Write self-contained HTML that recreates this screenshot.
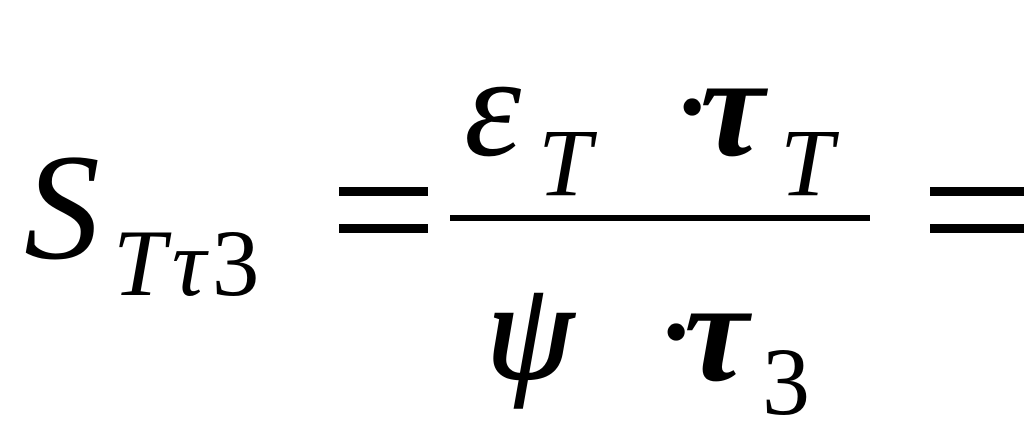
<!DOCTYPE html>
<html><head><meta charset="utf-8"><style>
html,body{margin:0;padding:0;background:#fff;}
svg{display:block;}
text{font-family:"Liberation Serif","DejaVu Serif",serif;fill:#000;}
</style></head><body>
<svg width="1024" height="448" viewBox="0 0 1024 448" xmlns="http://www.w3.org/2000/svg">
<text x="24" y="258" font-size="152" font-style="italic">S</text>
<text x="113" y="295" font-size="95" letter-spacing="6"><tspan font-style="italic">T</tspan><tspan font-style="italic">τ</tspan><tspan>3</tspan></text>
<rect x="339" y="187" width="89" height="9"/>
<rect x="339" y="224" width="89" height="9"/>
<text x="464" y="155" font-size="145" font-style="italic">ε</text>
<text x="538" y="195" font-size="96" font-style="italic">T</text>
<text x="668" y="155" font-size="145">·</text>
<text x="700" y="155" font-size="145" font-weight="bold" font-style="italic">τ</text>
<text x="780" y="195" font-size="96" font-style="italic">T</text>
<rect x="450" y="215" width="420" height="6"/>
<text x="486" y="378" font-size="140" font-style="italic" stroke="#000" stroke-width="2">ψ</text>
<text x="652" y="380" font-size="145">·</text>
<text x="684" y="380" font-size="145" font-weight="bold" font-style="italic">τ</text>
<text x="762" y="414" font-size="96">3</text>
<rect x="930" y="187" width="94" height="9"/>
<rect x="930" y="224" width="94" height="9"/>
</svg>
</body></html>
